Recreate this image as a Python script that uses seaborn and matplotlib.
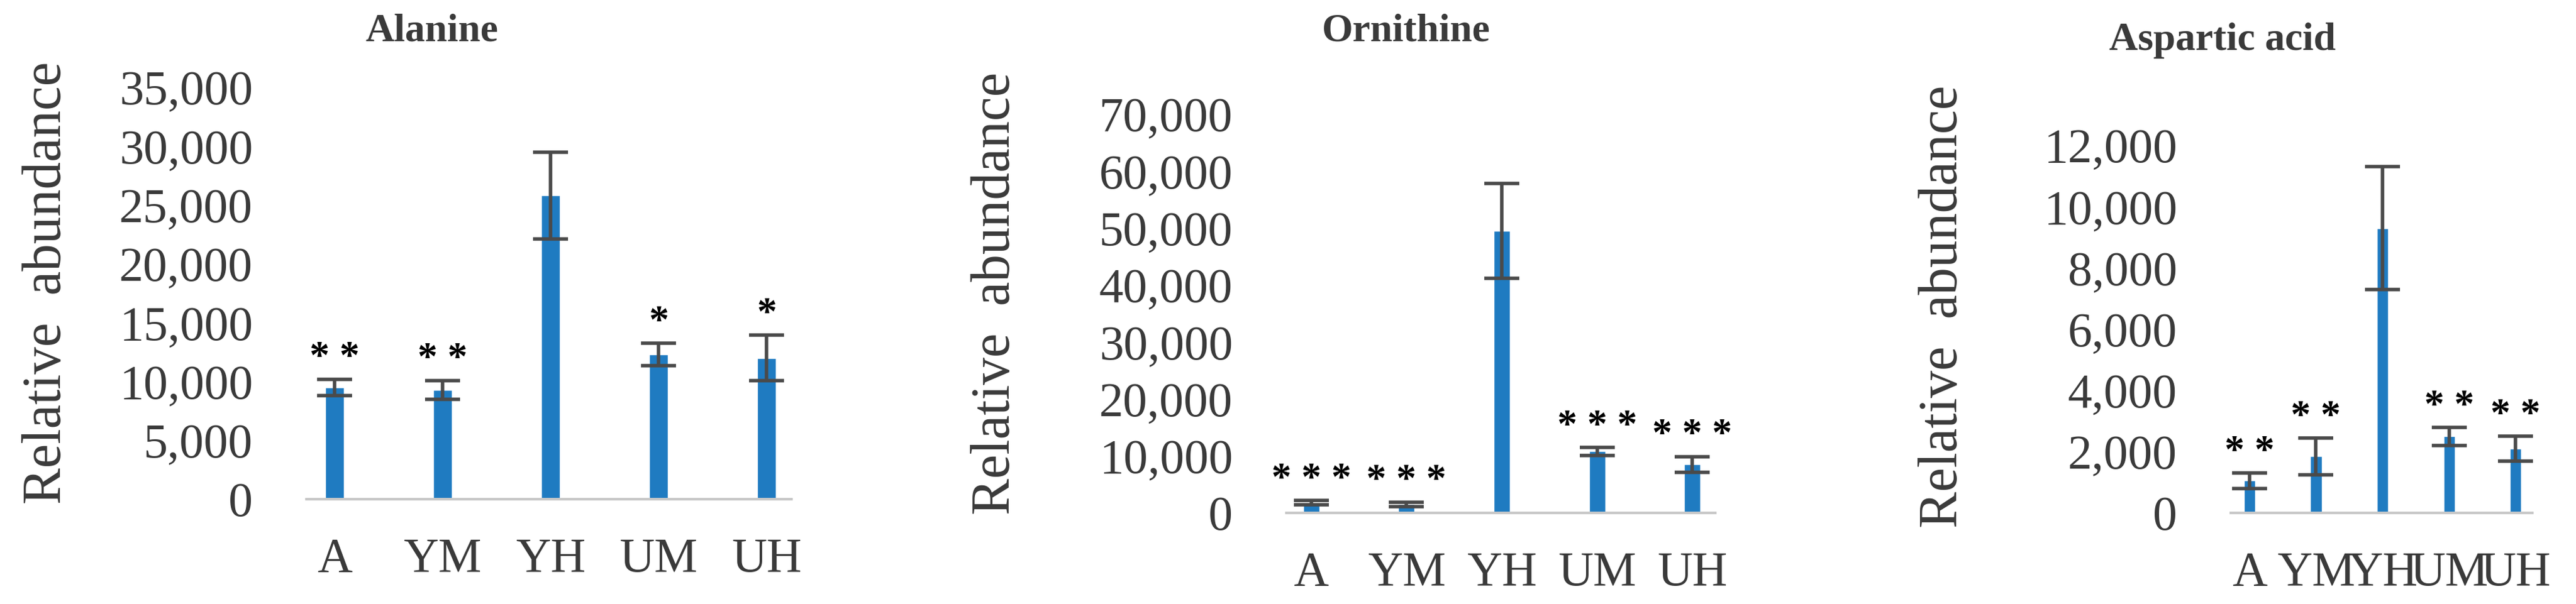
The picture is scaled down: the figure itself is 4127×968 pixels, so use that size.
import matplotlib
matplotlib.use("Agg")
import matplotlib.pyplot as plt
import seaborn as sns
import pandas as pd
from matplotlib.ticker import FuncFormatter

groups = ["A", "YM", "YH", "UM", "UH"]
alanine = [9500, 9300, 25800, 12300, 12000]
alanine_err = [700, 800, 3700, 950, 1950]
alanine_sig = ["**", "**", "", "*", "*"]
ornithine = [1800, 1500, 49500, 10800, 8500]
ornithine_err = [400, 400, 8300, 700, 1400]
ornithine_sig = ["***", "***", "", "***", "***"]
aspartic = [1050, 1850, 9300, 2500, 2100]
aspartic_err = [250, 600, 2000, 300, 400]
aspartic_sig = ["**", "**", "", "**", "**"]

sns.set_theme(style="white")
plt.rcParams['font.family'] = ['Liberation Serif', 'DejaVu Serif']

W, H = 4127, 968
fig = plt.figure(figsize=(W/100, H/100), dpi=100)

panels = [
    dict(title="Alanine", vals=alanine, err=alanine_err, sig=alanine_sig, ymax=35000, step=5000,
         x0=491, x1=1268, ybot=800, ytop=140, xl=(-0.26, 4.23), tx=692, ty=50, lx=76, ly=453),
    dict(title="Ornithine", vals=ornithine, err=ornithine_err, sig=ornithine_sig, ymax=70000, step=10000,
         x0=2061, x1=2748, ybot=822, ytop=183, xl=(-0.26, 4.24), tx=2253, ty=50, lx=1596, ly=470),
    dict(title="Aspartic acid", vals=aspartic, err=aspartic_err, sig=aspartic_sig, ymax=12000, step=2000,
         x0=3574, x1=4057, ybot=822, ytop=233, xl=(-0.28, 4.25), tx=3561, ty=65, lx=3113, ly=491),
]

blue = "#1f7bc1"
grey = "#3a3a3a"
for p in panels:
    ax = fig.add_axes([p["x0"]/W, 1-p["ybot"]/H, (p["x1"]-p["x0"])/W, (p["ybot"]-p["ytop"])/H])
    df = pd.DataFrame({"g": groups, "v": p["vals"]})
    sns.barplot(data=df, x="g", y="v", ax=ax, color=blue, width=0.17, saturation=1, errorbar=None)
    ax.errorbar(range(5), p["vals"], yerr=p["err"], fmt="none", ecolor="#4a4a4a",
                elinewidth=4, capsize=20, capthick=4)
    for i, s in enumerate(p["sig"]):
        if s:
            ax.text(i, p["vals"][i] + p["err"][i] + p["ymax"]*0.005, " ".join(s), ha="center", va="bottom",
                    fontsize=46, color="black", fontweight="bold")
    ax.set_ylim(0, p["ymax"])
    ax.set_xlim(*p["xl"])
    ax.set_yticks(range(0, p["ymax"]+1, p["step"]))
    ax.yaxis.set_major_formatter(FuncFormatter(lambda v, _: f"{int(v):,}"))
    ax.tick_params(axis="y", length=0, pad=62, labelsize=56, labelcolor=grey)
    ax.tick_params(axis="x", length=0, pad=44, labelsize=56, labelcolor=grey)
    ax.set_xlabel("")
    ax.set_ylabel("")
    for side in ["top", "right", "left"]:
        ax.spines[side].set_visible(False)
    ax.spines["bottom"].set_color("#c8c8c8")
    ax.spines["bottom"].set_linewidth(3)
    fig.text(p["tx"]/W, 1-p["ty"]/H, p["title"], ha="center", va="center", fontsize=46,
             fontweight="bold", color=grey)
    fig.text(p["lx"]/W, 1-p["ly"]/H, "Relative  abundance", ha="center", va="center", rotation=90,
             fontsize=63, color=grey)

fig.savefig("out.png", dpi=100)
